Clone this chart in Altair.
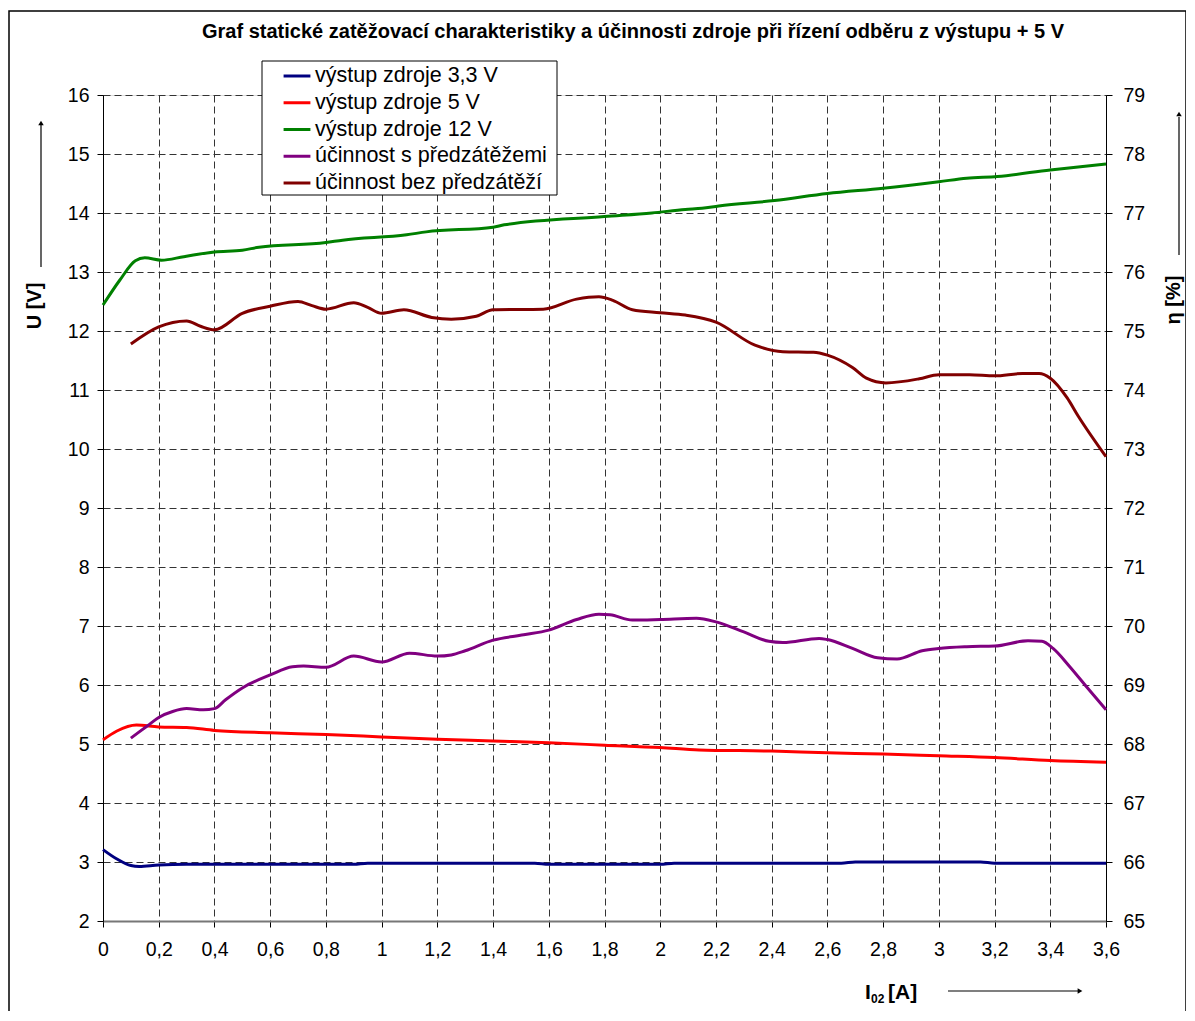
import altair as alt
import pandas as pd

# ---------------- data ----------------
names = ["výstup zdroje 3,3 V", "výstup zdroje 5 V", "výstup zdroje 12 V",
         "účinnost s předzátěžemi", "účinnost bez předzátěží"]
colors = ["#000080", "#ff0000", "#008000", "#800080", "#800000"]

x_33 = [0, 0.05, 0.1, 0.13, 0.2, 0.3, 0.9, 0.95, 1.55, 1.6, 2.0, 2.05, 2.65, 2.7, 3.15, 3.2, 3.6]
u_33 = [3.21, 3.05, 2.94, 2.925, 2.95, 2.96, 2.96, 2.98, 2.98, 2.96, 2.96, 2.98, 2.98, 3.0, 3.0, 2.98, 2.98]

x_5 = [0, 0.05, 0.12, 0.2, 0.3, 0.4, 0.6, 0.8, 1.0, 1.2, 1.4, 1.6, 1.8, 2.0, 2.14, 2.4, 2.6, 2.8, 3.0, 3.2, 3.4, 3.6]
u_5 = [5.07, 5.22, 5.32, 5.29, 5.28, 5.23, 5.19, 5.16, 5.12, 5.08, 5.05, 5.02, 4.98, 4.94, 4.9, 4.88, 4.85, 4.83, 4.8, 4.77, 4.72, 4.69]

x_12 = [0, 0.06, 0.116, 0.15, 0.21, 0.29, 0.4, 0.5, 0.56, 0.8, 0.86, 1.09, 1.16, 1.4, 1.44, 1.8, 1.97,
        2.09, 2.15, 2.21, 2.41, 2.6, 2.8, 3.0, 3.1, 3.21, 3.4, 3.6]
u_12 = [12.44, 12.86, 13.19, 13.24, 13.2, 13.26, 13.34, 13.37, 13.42, 13.5, 13.54, 13.63, 13.68, 13.76, 13.8,
        13.94, 14.0, 14.06, 14.08, 14.12, 14.21, 14.33, 14.42, 14.53, 14.59, 14.62, 14.73, 14.83]

x_s = [0.1, 0.16, 0.2, 0.25, 0.3, 0.36, 0.4, 0.44, 0.5, 0.6, 0.68, 0.72, 0.8, 0.9, 1.0, 1.1, 1.2, 1.25, 1.3,
       1.4, 1.51, 1.6, 1.7, 1.78, 1.82, 1.9, 2.0, 2.13, 2.2, 2.3, 2.39, 2.44, 2.57, 2.6, 2.69, 2.78, 2.85,
       2.94, 3.0, 3.1, 3.2, 3.32, 3.37, 3.41, 3.47, 3.53, 3.6]
eta_s = [68.1, 68.31, 68.45, 68.55, 68.6, 68.58, 68.6, 68.75, 68.95, 69.17, 69.31, 69.32, 69.3, 69.49,
         69.39, 69.54, 69.49, 69.51, 69.58, 69.76, 69.85, 69.93, 70.11, 70.2, 70.19, 70.1, 70.11, 70.13,
         70.07, 69.9, 69.74, 69.72, 69.79, 69.77, 69.62, 69.46, 69.44, 69.58, 69.62, 69.65, 69.66, 69.75,
         69.74, 69.62, 69.31, 68.97, 68.58]

x_b = [0.1, 0.2, 0.3, 0.35, 0.4, 0.5, 0.6, 0.7, 0.75, 0.8, 0.9, 0.95, 1.0, 1.08, 1.18, 1.25, 1.34, 1.4,
       1.58, 1.7, 1.78, 1.83, 1.9, 2.0, 2.09, 2.2, 2.34, 2.44, 2.55, 2.6, 2.69, 2.74, 2.81, 2.93, 3.0,
       3.11, 3.2, 3.3, 3.36, 3.4, 3.46, 3.5, 3.6]
eta_b = [74.78, 75.07, 75.17, 75.08, 75.02, 75.3, 75.42, 75.5, 75.43, 75.37, 75.48, 75.4, 75.3, 75.36,
         75.23, 75.2, 75.25, 75.36, 75.37, 75.54, 75.58, 75.52, 75.36, 75.31, 75.27, 75.15, 74.76, 74.65,
         74.64, 74.59, 74.38, 74.2, 74.12, 74.19, 74.26, 74.26, 74.24, 74.28, 74.28, 74.2, 73.87, 73.56, 72.87]

x_ticks = [0, 0.2, 0.4, 0.6, 0.8, 1, 1.2, 1.4, 1.6, 1.8, 2, 2.2, 2.4, 2.6, 2.8, 3, 3.2, 3.4, 3.6]
u_ticks = list(range(2, 17))
eta_ticks = list(range(65, 80))

title_text = "Graf statické zatěžovací charakteristiky a účinnosti zdroje při řízení odběru z výstupu + 5 V"

# ---------------- tables ----------------
dfU = pd.concat([
    pd.DataFrame({"I": x_33, "U": u_33, "s": names[0]}),
    pd.DataFrame({"I": x_5, "U": u_5, "s": names[1]}),
    pd.DataFrame({"I": x_12, "U": u_12, "s": names[2]}),
], ignore_index=True)
dfE = pd.concat([
    pd.DataFrame({"I": x_s, "eta": eta_s, "s": names[3]}),
    pd.DataFrame({"I": x_b, "eta": eta_b, "s": names[4]}),
], ignore_index=True)

FONT = "Liberation Sans"
TICKFS = 19.5

x_enc = alt.X("I:Q",
              scale=alt.Scale(domain=[0, 3.6], nice=False, zero=False),
              axis=alt.Axis(values=x_ticks, title=None, grid=True, gridDash=[7, 4], gridColor="#333",
                            gridWidth=1, domainColor="#777", domainWidth=2, tickColor="black",
                            tickSize=6, labelPadding=13, labelFontSize=TICKFS, labelFont=FONT,
                            labelColor="black", labelOverlap=False, labelFlush=False,
                            labelExpr="replace(format(datum.value, '.1~f'), '.', ',')"))

color = alt.Color("s:N", scale=alt.Scale(domain=names, range=colors),
                  legend=alt.Legend(title=None, orient="none", legendX=159, legendY=-34,
                                    direction="vertical", symbolType="stroke", symbolStrokeWidth=3,
                                    symbolSize=720, labelFontSize=21.5, labelFont=FONT,
                                    labelColor="black", padding=0, rowPadding=0.75,
                                    symbolOffset=20, labelOffset=3, labelLimit=400))

left = alt.Chart(dfU).mark_line(strokeWidth=3, interpolate="monotone").encode(
    x=x_enc,
    y=alt.Y("U:Q", scale=alt.Scale(domain=[2, 16], nice=False, zero=False),
            axis=alt.Axis(orient="left", values=u_ticks, title=None, grid=True, gridDash=[7, 4],
                          gridColor="#333", gridWidth=1, domainColor="black", tickColor="black",
                          tickSize=6, labelPadding=8, labelFontSize=TICKFS, labelFont=FONT,
                          labelColor="black", labelOverlap=False)),
    color=color,
)

right = alt.Chart(dfE).mark_line(strokeWidth=3, interpolate="monotone").encode(
    x=x_enc,
    y=alt.Y("eta:Q", scale=alt.Scale(domain=[65, 79], nice=False, zero=False),
            axis=alt.Axis(orient="right", values=eta_ticks, title=None, grid=False,
                          domainColor="black", tickColor="black", tickSize=6, labelPadding=11,
                          labelFontSize=TICKFS, labelFont=FONT, labelColor="black", labelOverlap=False)),
    color=color,
)

one = pd.DataFrame({"a": [0]})
base = alt.Chart(one)

frame = base.mark_rect(fill=None, stroke="black", strokeWidth=1.5).encode(
    x=alt.value(-94), x2=alt.value(1083), y=alt.value(-84), y2=alt.value(1000))

legend_box = base.mark_rect(fill="white", stroke="black", strokeWidth=1).encode(
    x=alt.value(159), x2=alt.value(454), y=alt.value(-34), y2=alt.value(100))

title = base.mark_text(fontSize=20, font=FONT, fontWeight="bold", align="center",
                       baseline="middle", color="black").encode(
    x=alt.value(530), y=alt.value(-63), text=alt.value(title_text))

ytitle_l = base.mark_text(fontSize=20, font=FONT, fontWeight="bold", angle=270, align="center",
                          baseline="middle", color="black").encode(
    x=alt.value(-68), y=alt.value(211), text=alt.value("U [V]"))
ytitle_r = base.mark_text(fontSize=20, font=FONT, fontWeight="bold", angle=270, align="center",
                          baseline="middle", color="black").encode(
    x=alt.value(1071), y=alt.value(205), text=alt.value("η [%]"))

xt_I = base.mark_text(fontSize=21, font=FONT, fontWeight="bold", align="left",
                      baseline="alphabetic", color="black").encode(
    x=alt.value(762), y=alt.value(904), text=alt.value("I"))
xt_sub = base.mark_text(fontSize=12, font=FONT, fontWeight="bold", align="left",
                        baseline="alphabetic", color="black").encode(
    x=alt.value(768), y=alt.value(908), text=alt.value("02"))
xt_A = base.mark_text(fontSize=21, font=FONT, fontWeight="bold", align="left",
                      baseline="alphabetic", color="black").encode(
    x=alt.value(785), y=alt.value(904), text=alt.value("[A]"))

arr_l = base.mark_rule(color="black", strokeWidth=1.2).encode(
    x=alt.value(-62), y=alt.value(172), y2=alt.value(30))
arr_r = base.mark_rule(color="black", strokeWidth=1.2).encode(
    x=alt.value(1076), y=alt.value(160), y2=alt.value(22))
arr_b = base.mark_rule(color="black", strokeWidth=1.2).encode(
    x=alt.value(845), x2=alt.value(975), y=alt.value(896))
head_l = base.mark_point(shape="triangle-up", filled=True, color="black", size=30, opacity=1).encode(
    x=alt.value(-62), y=alt.value(28))
head_r = base.mark_point(shape="triangle-up", filled=True, color="black", size=30, opacity=1).encode(
    x=alt.value(1076), y=alt.value(19))
head_b = base.mark_point(shape="triangle-right", filled=True, color="black", size=30, opacity=1).encode(
    x=alt.value(977), y=alt.value(896))

chart = alt.layer(
    left, right, frame, legend_box, title, ytitle_l, ytitle_r, xt_I, xt_sub, xt_A,
    arr_l, arr_r, arr_b, head_l, head_r, head_b
).resolve_scale(y="independent").properties(
    width=1003, height=826,
    padding={"left": 95, "top": 87, "right": 80, "bottom": 90},
    autosize=alt.AutoSizeParams(type="none"),
).configure_view(stroke=None).configure(background="white")

chart.save("out.html", embed_options={"renderer": "svg", "actions": False})
